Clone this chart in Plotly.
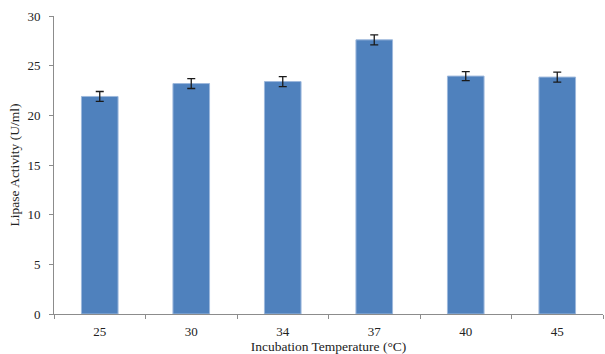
import plotly.graph_objects as go

# Lipase activity at each incubation temperature
temperatures = ["25", "30", "34", "37", "40", "45"]
activity = [21.9, 23.2, 23.4, 27.6, 23.95, 23.85]
activity_err = [0.5, 0.5, 0.5, 0.5, 0.45, 0.5]
y_ticks = [0, 5, 10, 15, 20, 25, 30]

font_family = "Liberation Serif, Times New Roman, serif"

fig = go.Figure(
    go.Bar(
        x=temperatures,
        y=activity,
        width=0.4,
        marker=dict(color="#4F81BD", line=dict(color="#9DB8DC", width=1)),
        error_y=dict(
            type="data",
            array=activity_err,
            visible=True,
            color="#1a1a1a",
            thickness=1.3,
            width=4,
        ),
    )
)

fig.update_layout(
    width=605,
    height=354,
    margin=dict(l=54, r=2, t=16, b=40),
    paper_bgcolor="white",
    plot_bgcolor="white",
    showlegend=False,
    font=dict(family=font_family, size=13, color="#222222"),
    bargap=0.6,
)

fig.update_xaxes(
    type="category",
    showline=True,
    linecolor="#8c8c8c",
    linewidth=1,
    ticks="outside",
    tickson="boundaries",
    ticklen=4,
    tickcolor="#8c8c8c",
    showgrid=False,
    tickfont=dict(size=13),
    ticklabelstandoff=5,
    title=dict(text="Incubation Temperature (\u00b0C)", standoff=0, font=dict(size=13.5)),
)

fig.update_yaxes(
    range=[0, 30],
    tickvals=y_ticks,
    showline=True,
    linecolor="#8c8c8c",
    linewidth=1,
    ticks="outside",
    ticklen=4,
    tickcolor="#8c8c8c",
    showgrid=False,
    zeroline=False,
    tickfont=dict(size=13),
    ticklabelstandoff=6,
    title=dict(text="Lipase Activity (U/ml)", standoff=4, font=dict(size=13.5)),
)

fig.write_html("out.html")
